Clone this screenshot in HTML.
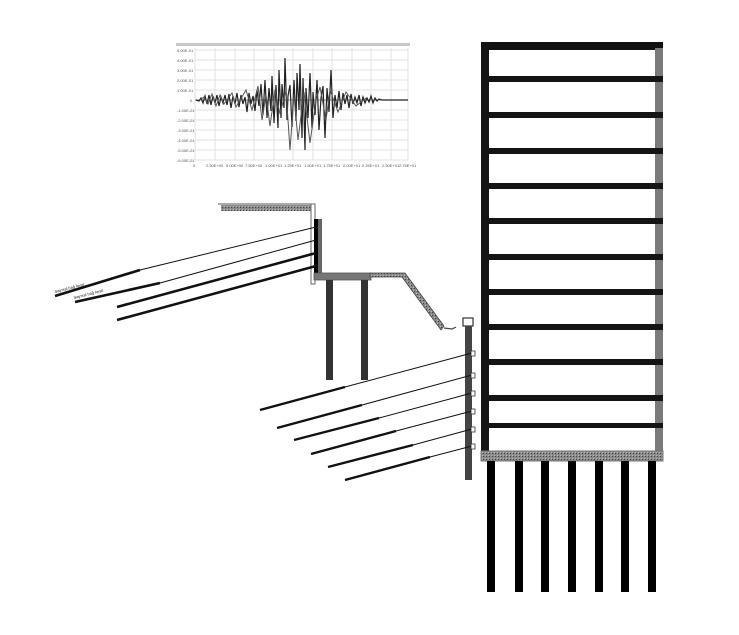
<!DOCTYPE html>
<html><head><meta charset="utf-8"><style>html,body{margin:0;padding:0;background:#fff;}svg{display:block}</style></head>
<body>
<svg width="739" height="635" viewBox="0 0 739 635" xmlns="http://www.w3.org/2000/svg" font-family="Liberation Sans, sans-serif">
<defs>
<pattern id="h" width="3" height="3" patternUnits="userSpaceOnUse"><rect width="3" height="3" fill="#8a8a8a"/><rect width="1" height="1" fill="#444"/><rect x="2" y="2" width="1" height="1" fill="#bbb"/></pattern>
</defs>
<!-- chart -->
<rect x="176" y="43" width="234" height="3" fill="#c8c8c8"/>
<g stroke="#e2e2e2" stroke-width="1">
<line x1="195" y1="48" x2="195" y2="160"/><line x1="215" y1="48" x2="215" y2="160"/><line x1="235" y1="48" x2="235" y2="160"/><line x1="254" y1="48" x2="254" y2="160"/><line x1="274" y1="48" x2="274" y2="160"/><line x1="293" y1="48" x2="293" y2="160"/><line x1="313" y1="48" x2="313" y2="160"/><line x1="332" y1="48" x2="332" y2="160"/><line x1="352" y1="48" x2="352" y2="160"/><line x1="371" y1="48" x2="371" y2="160"/><line x1="391" y1="48" x2="391" y2="160"/><line x1="408" y1="48" x2="408" y2="160"/>
<line x1="195" y1="50" x2="408" y2="50"/><line x1="195" y1="60" x2="408" y2="60"/><line x1="195" y1="70" x2="408" y2="70"/><line x1="195" y1="80" x2="408" y2="80"/><line x1="195" y1="90" x2="408" y2="90"/><line x1="195" y1="110" x2="408" y2="110"/><line x1="195" y1="120" x2="408" y2="120"/><line x1="195" y1="130" x2="408" y2="130"/><line x1="195" y1="140" x2="408" y2="140"/><line x1="195" y1="150" x2="408" y2="150"/><line x1="195" y1="160" x2="408" y2="160"/>
</g>
<line x1="195" y1="100" x2="408" y2="100" stroke="#888" stroke-width="1"/>
<g font-size="4" fill="#555">
<text x="177" y="52">5.00E-01</text><text x="177" y="62">4.00E-01</text><text x="177" y="72">3.00E-01</text><text x="177" y="82">2.00E-01</text><text x="177" y="92">1.00E-01</text><text x="190" y="102">0</text><text x="177" y="112">-1.00E-01</text><text x="177" y="122">-2.00E-01</text><text x="177" y="132">-3.00E-01</text><text x="177" y="142">-4.00E-01</text><text x="177" y="152">-5.00E-01</text><text x="177" y="162">-6.00E-01</text>
<text x="193" y="167">0</text><text x="206" y="167">2.50E+00</text><text x="226" y="167">5.00E+00</text><text x="245" y="167">7.50E+00</text><text x="265" y="167">1.00E+01</text><text x="284" y="167">1.25E+01</text><text x="304" y="167">1.50E+01</text><text x="323" y="167">1.75E+01</text><text x="343" y="167">2.00E+01</text><text x="362" y="167">2.25E+01</text><text x="382" y="167">2.50E+01</text><text x="399" y="167">2.75E+01</text>
</g>
<polyline fill="none" stroke="#222" stroke-width="1.2" points="196,100 199,101 201,98 203,103 205,96 207,104 209,95 211,105 213,96 215,103 217,95 219,106 221,97 223,103 225,95 227,105 229,94 231,108 233,96 235,104 237,93 239,107 241,95 243,104 245,97 247,112 249,93 251,104 253,96 255,111 257,90 259,106 261,84 263,115 265,80 267,118 269,88 271,111 272,76 274,123 276,85 278,128 279,70 281,118 282,84 284,108 285,58 287,120 288,96 290,85 292,127 294,80 296,121 297,73 299,110 300,64 302,138 303,78 305,150 306,88 308,118 310,73 312,128 313,92 315,115 317,80 319,130 321,98 323,86 325,138 327,88 329,112 331,70 333,118 335,95 337,108 339,91 341,110 343,93 345,104 347,95 349,108 351,94 353,104 355,97 357,103 359,95 361,106 363,97 365,103 367,98 369,102 371,96 373,103 375,98 377,101 379,99 382,100 408,100"/>
<polyline fill="none" stroke="#555" stroke-width="1" points="200,100 204,97 208,104 212,94 216,106 220,95 224,104 232,93 236,107 246,90 252,110 258,86 262,120 266,95 270,126 275,90 280,114 286,90 290,150 294,95 298,140 304,92 310,143 316,100 320,87 326,120 330,90 338,112 346,92 356,106 366,98"/>
<!-- building -->
<rect x="481" y="42" width="182" height="8" fill="#111"/>
<rect x="481" y="42" width="8" height="410" fill="#151515"/>
<rect x="655" y="48" width="8" height="404" fill="#7a7a7a"/>
<g fill="#141414">
<rect x="487" y="76" width="176" height="6"/><rect x="487" y="112" width="176" height="6"/><rect x="487" y="148" width="176" height="6"/><rect x="487" y="183" width="176" height="6"/><rect x="487" y="218" width="176" height="6"/><rect x="487" y="254" width="176" height="6"/><rect x="487" y="289" width="176" height="6"/><rect x="487" y="324" width="176" height="6"/><rect x="487" y="359" width="176" height="6"/><rect x="487" y="395" width="176" height="6"/><rect x="487" y="423" width="176" height="5"/>
</g>
<rect x="481" y="451" width="182" height="10" fill="url(#h)" stroke="#777" stroke-width="1"/>
<g fill="#000">
<rect x="487" y="461" width="8" height="131"/><rect x="515" y="461" width="8" height="131"/><rect x="541" y="461" width="8" height="131"/><rect x="568" y="461" width="8" height="131"/><rect x="595" y="461" width="8" height="131"/><rect x="621" y="461" width="8" height="131"/><rect x="648" y="461" width="8" height="131"/>
</g>
<!-- upper retaining -->
<rect x="221" y="205" width="90" height="6" fill="url(#h)"/>
<line x1="218" y1="204" x2="313" y2="204" stroke="#555" stroke-width="1"/>
<rect x="311" y="204" width="4" height="80" fill="#fff" stroke="#666" stroke-width="1"/>
<rect x="314" y="219" width="5" height="55" fill="#000"/>
<rect x="318" y="219" width="4" height="60" fill="#666"/>
<rect x="314" y="273" width="57" height="7" fill="#777" stroke="#555" stroke-width="0.8"/>
<path d="M370,273 L405,273 L444,326 L441,330 L402,277 L370,277 Z" fill="url(#h)" stroke="#444" stroke-width="0.8"/>
<path d="M444,328 L452,329 L456,327" fill="none" stroke="#444" stroke-width="1.2"/>
<rect x="326" y="280" width="7" height="100" fill="#333"/>
<rect x="361" y="280" width="7" height="100" fill="#333"/>
<!-- upper anchors -->
<g stroke="#111">
<line x1="316" y1="227" x2="140" y2="270" stroke-width="1"/><line x1="140" y1="270" x2="55" y2="296" stroke-width="2.6"/>
<line x1="316" y1="240" x2="160" y2="283" stroke-width="1"/><line x1="160" y1="283" x2="75" y2="302" stroke-width="2.6"/>
<line x1="316" y1="253" x2="117" y2="307" stroke-width="2.6"/>
<line x1="316" y1="266" x2="117" y2="320" stroke-width="2.6"/>
</g>
<g font-size="4" fill="#222">
<text x="55" y="293" transform="rotate(-14 55 293)">Sayısal bağ kesit</text>
<text x="74" y="299" transform="rotate(-14 74 299)">Sayısal bağ kesit</text>
</g>
<!-- lower wall -->
<rect x="463" y="318" width="10" height="8" fill="#fff" stroke="#333" stroke-width="1.2"/>
<rect x="465" y="326" width="7" height="154" fill="#444"/>
<g stroke="#111">
<line x1="472" y1="353" x2="345" y2="387" stroke-width="1"/><line x1="345" y1="387" x2="260" y2="410" stroke-width="2.4"/>
<line x1="472" y1="375" x2="362" y2="405" stroke-width="1"/><line x1="362" y1="405" x2="277" y2="428" stroke-width="2.4"/>
<line x1="472" y1="393" x2="379" y2="418" stroke-width="1"/><line x1="379" y1="418" x2="294" y2="440" stroke-width="2.4"/>
<line x1="472" y1="411" x2="396" y2="431" stroke-width="1"/><line x1="396" y1="431" x2="311" y2="454" stroke-width="2.4"/>
<line x1="472" y1="429" x2="413" y2="445" stroke-width="1"/><line x1="413" y1="445" x2="328" y2="467" stroke-width="2.4"/>
<line x1="472" y1="446" x2="430" y2="457" stroke-width="1"/><line x1="430" y1="457" x2="345" y2="480" stroke-width="2.4"/>
</g>
<g fill="#fff" stroke="#333" stroke-width="0.8">
<rect x="471" y="351" width="4" height="5"/><rect x="471" y="373" width="4" height="5"/><rect x="471" y="391" width="4" height="5"/><rect x="471" y="409" width="4" height="5"/><rect x="471" y="427" width="4" height="5"/><rect x="471" y="444" width="4" height="5"/>
</g>
</svg>
</body></html>
